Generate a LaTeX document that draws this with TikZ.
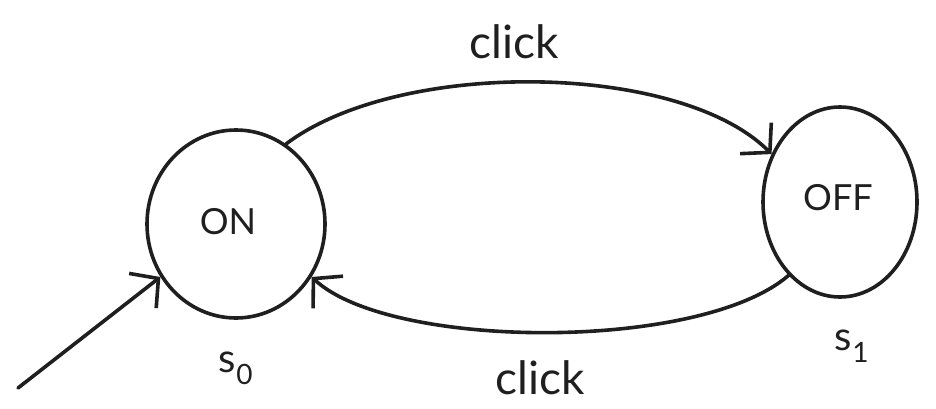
\documentclass[tikz,border=0pt]{standalone}
\usepackage{fontspec}
\setmainfont{Lato}
\usetikzlibrary{arrows.meta,shapes.geometric}
\begin{document}
\begin{tikzpicture}[x=1pt,y=-1pt,
  every path/.style={line width=3.6pt,draw=black!88,line cap=round,line join=round},
  state/.style={ellipse,draw,line width=3.6pt,inner sep=0pt},
  lbl/.style={font=\fontsize{36}{42}\selectfont,text=black!88},
  tip/.style={-{Straight Barb[length=20pt,width=44pt,line width=3.6pt]}}]
\useasboundingbox[draw=none] (0,0) rectangle (936,409);
\node[state,minimum width=178pt,minimum height=188pt] (on) at (236,224) {};
\node[state,minimum width=154pt,minimum height=190pt] (off) at (840,202) {};
\node[lbl] (onl) at (228,222) {ON};
\node[lbl] (offl) at (838,198) {OFF};
\node[lbl,font=\fontsize{40}{46}\selectfont] (s0) at (236,368) {s\textsubscript{0}};
\node[lbl,font=\fontsize{40}{46}\selectfont] (s1) at (852,346) {s\textsubscript{1}};
\node[lbl,font=\fontsize{46}{52}\selectfont] (c1) at (514,42) {click};
\node[lbl,font=\fontsize{46}{52}\selectfont] (c2) at (540,378) {click};
\coordinate (init) at (18,388);
\draw[tip] (init) -- (on.215);
\draw[tip] (on.58) .. controls (400,58) and (680,62) .. (off.145);
\draw[tip] (off.235) .. controls (700,352) and (390,350) .. (on.-35);
\end{tikzpicture}
\end{document}
